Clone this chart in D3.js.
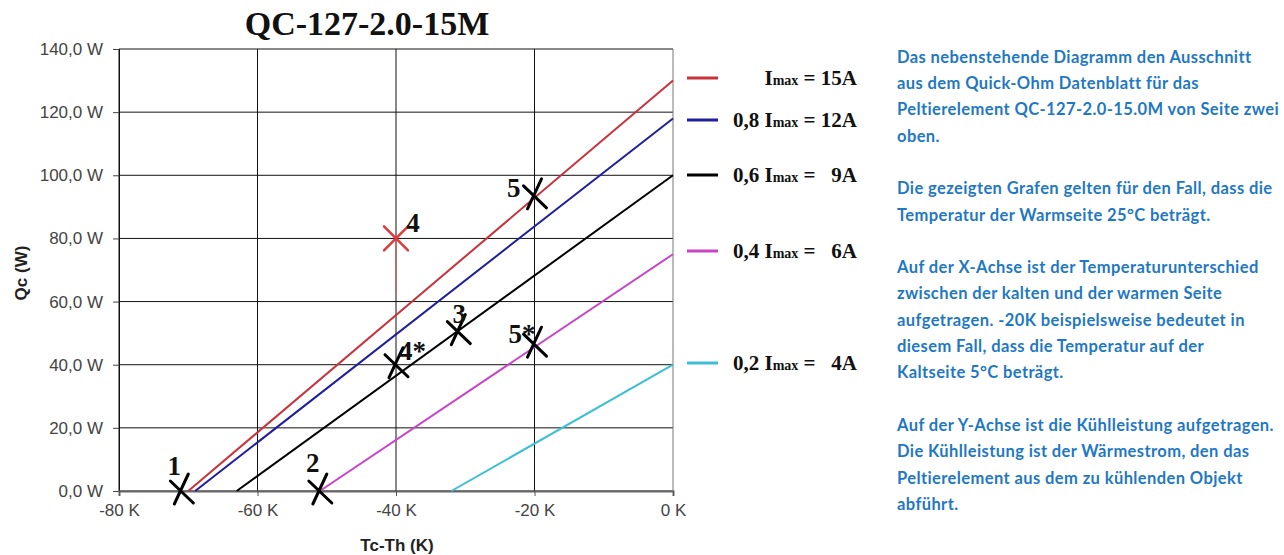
<!DOCTYPE html>
<html>
<head>
<meta charset="utf-8">
<script src="https://cdn.jsdelivr.net/npm/d3@7"></script>
<style>
  body { margin: 0; background: #fff; }
  svg { display: block; }
</style>
</head>
<body>
<div id="chart"></div>
<script>
// Kennlinien: Qc = 0 bei dtZero, Qc = qcZero bei dT = 0
var currents = ["15A", "12A", "9A", "6A", "4A"];
var factors = ["", "0,8 ", "0,6 ", "0,4 ", "0,2 "];
var dtZero = [-70, -69, -63, -51, -32];
var qcZero = [130, 118, 100, 75, 40];
var lineColors = ["#c8323a", "#1f1f9e", "#000000", "#c843c8", "#3cbfd6"];

// Markierungen
var markLabels = ["1", "2", "3", "4", "4*", "5", "5*"];
var markX = [-71, -51, -31, -40, -40, -20, -20];
var markY = [0, 0, 50.5, 80, 40, 93.5, 46.5];
var stemX = [-40, -40];
var stemY = [80, 63];

var xTicks = [-80, -60, -40, -20, 0];
var yTicks = [0, 20, 40, 60, 80, 100, 120, 140];

var infoLines = [
  "Das nebenstehende Diagramm den Ausschnitt",
  "aus dem Quick-Ohm Datenblatt für das",
  "Peltierelement QC-127-2.0-15.0M von Seite zwei",
  "oben.",
  "",
  "Die gezeigten Grafen gelten für den Fall, dass die",
  "Temperatur der Warmseite 25°C beträgt.",
  "",
  "Auf der X-Achse ist der Temperaturunterschied",
  "zwischen der kalten und der warmen Seite",
  "aufgetragen. -20K beispielsweise bedeutet in",
  "diesem Fall, dass die Temperatur auf der",
  "Kaltseite 5°C beträgt.",
  "",
  "Auf der Y-Achse ist die Kühlleistung aufgetragen.",
  "Die Kühlleistung ist der Wärmestrom, den das",
  "Peltierelement aus dem zu kühlenden Objekt",
  "abführt."
];

var margin = {top: 49, left: 119},
    width = 554,
    height = 442;

var svg = d3.select("#chart")
  .append("svg")
    .attr("width", 1284)
    .attr("height", 555);

var g = svg.append("g")
    .attr("transform", "translate(" + margin.left + "," + margin.top + ")");

var x = d3.scaleLinear().domain([-80, 0]).range([0, width]);
var y = d3.scaleLinear().domain([0, 140]).range([height, 0]);

// Gitter
g.selectAll(".hgrid")
  .data(yTicks)
  .enter()
  .append("line")
    .attr("x1", 0).attr("x2", width)
    .attr("y1", d => y(d)).attr("y2", d => y(d))
    .attr("stroke", "#111").attr("stroke-width", 1);

g.selectAll(".vgrid")
  .data(xTicks)
  .enter()
  .append("line")
    .attr("x1", d => x(d)).attr("x2", d => x(d))
    .attr("y1", 0).attr("y2", height)
    .attr("stroke", d => d == 0 ? "#777" : "#111").attr("stroke-width", 1);

// Achsen
var yAxis = g.append("g")
  .call(d3.axisLeft(y).tickValues(yTicks).tickSize(6).tickPadding(10)
    .tickFormat(d => d.toFixed(1).replace(".", ",") + " W"));

var xAxis = g.append("g")
    .attr("transform", "translate(0," + height + ")")
  .call(d3.axisBottom(x).tickValues(xTicks).tickSize(5).tickPadding(8)
    .tickFormat(d => d + " K"));

[yAxis, xAxis].forEach(function(a) {
  a.selectAll("text")
    .style("font-family", "'Liberation Sans', Arial, sans-serif")
    .style("font-size", "17px")
    .attr("fill", "#444");
});
yAxis.select(".domain").attr("stroke", "#111");
yAxis.selectAll(".tick line").attr("stroke", "#444");
xAxis.select(".domain").attr("stroke", "#666").attr("stroke-width", 2);
xAxis.selectAll(".tick line").attr("stroke", "#555");

// Kennlinien
g.selectAll(".curve")
  .data(currents)
  .enter()
  .append("line")
    .attr("x1", (d, i) => x(dtZero[i]))
    .attr("y1", y(0))
    .attr("x2", x(0))
    .attr("y2", (d, i) => y(qcZero[i]))
    .attr("stroke", (d, i) => lineColors[i])
    .attr("stroke-width", 2);

// roter Strich unter Punkt 4
g.append("line")
    .attr("x1", x(stemX[0])).attr("y1", y(stemY[0]))
    .attr("x2", x(stemX[1])).attr("y2", y(stemY[1]))
    .attr("stroke", "#e05a5a").attr("stroke-width", 1);

// Kreuze
var labelOffsets = {
  "1": [-7, -16, "middle"], "2": [-7, -19, "middle"], "3": [1, -9, "middle"],
  "4": [17, -6, "middle"], "4*": [3, -5, "start"], "5": [-14, 1, "end"], "5*": [1, -1, "end"]
};

var marks = g.selectAll(".mark")
  .data(markLabels)
  .enter()
  .append("g")
    .attr("transform", (d, i) => "translate(" + x(markX[i]) + "," + y(markY[i]) + ")");

marks.append("path")
    .attr("d", d => d == "4" ? "M-12,-12L12,12M12,-12L-12,12" : "M-11,-10L12,12M7,-17L-7,13")
    .attr("fill", "none")
    .attr("stroke", d => d == "4" ? "#e03a3a" : "#000")
    .attr("stroke-width", d => d == "4" ? 2.5 : 3)
    .attr("stroke-linecap", "round");

marks.append("text")
    .attr("x", d => labelOffsets[d][0])
    .attr("y", d => labelOffsets[d][1])
    .attr("text-anchor", d => labelOffsets[d][2])
    .style("font-family", "'Liberation Serif', 'Times New Roman', serif")
    .style("font-weight", "bold")
    .style("font-size", "27px")
    .attr("fill", "#111")
    .text(d => d);

// Titel
svg.append("text")
    .attr("x", 367).attr("y", 35)
    .attr("text-anchor", "middle")
    .style("font-family", "'Liberation Serif', 'Times New Roman', serif")
    .style("font-weight", "bold")
    .style("font-size", "34px")
    .attr("fill", "#111")
    .text("QC-127-2.0-15M");

svg.append("text")
    .attr("x", 397).attr("y", 551)
    .attr("text-anchor", "middle")
    .style("font-family", "'Liberation Sans', Arial, sans-serif")
    .style("font-weight", "bold")
    .style("font-size", "17px")
    .attr("fill", "#222")
    .text("Tc-Th (K)");

svg.append("text")
    .attr("transform", "translate(27,273) rotate(-90)")
    .attr("text-anchor", "middle")
    .style("font-family", "'Liberation Sans', Arial, sans-serif")
    .style("font-weight", "bold")
    .style("font-size", "17px")
    .attr("fill", "#222")
    .text("Qc (W)");

// Legende
var legendY = [78, 120, 175, 251, 363];
var legend = svg.selectAll(".legend")
  .data(currents)
  .enter()
  .append("g")
    .attr("transform", (d, i) => "translate(0," + legendY[i] + ")");

legend.append("line")
    .attr("x1", 687).attr("x2", 718)
    .attr("stroke", (d, i) => lineColors[i])
    .attr("stroke-width", 3);

var ltext = legend.append("text")
    .attr("x", 857).attr("y", 7)
    .attr("text-anchor", "end")
    .style("white-space", "pre")
    .style("font-family", "'Liberation Serif', 'Times New Roman', serif")
    .style("font-weight", "bold")
    .style("font-size", "21px")
    .attr("fill", "#111");
ltext.append("tspan").text((d, i) => factors[i] + "I");
ltext.append("tspan").style("font-size", "14px").text("max");
ltext.append("tspan").text(d => " = " + (d.length < 3 ? "  " : "") + d);

// Text rechts
svg.selectAll(".info")
  .data(infoLines)
  .enter()
  .append("text")
    .attr("x", 897)
    .attr("y", (d, i) => 62.7 + i * 26.3)
    .style("font-family", "Lato, sans-serif")
    .style("font-weight", "bold")
    .style("font-size", "16.5px")
    .style("letter-spacing", "0.4px")
    .attr("fill", "#1f78c4")
    .text(d => d);
</script>
</body>
</html>
